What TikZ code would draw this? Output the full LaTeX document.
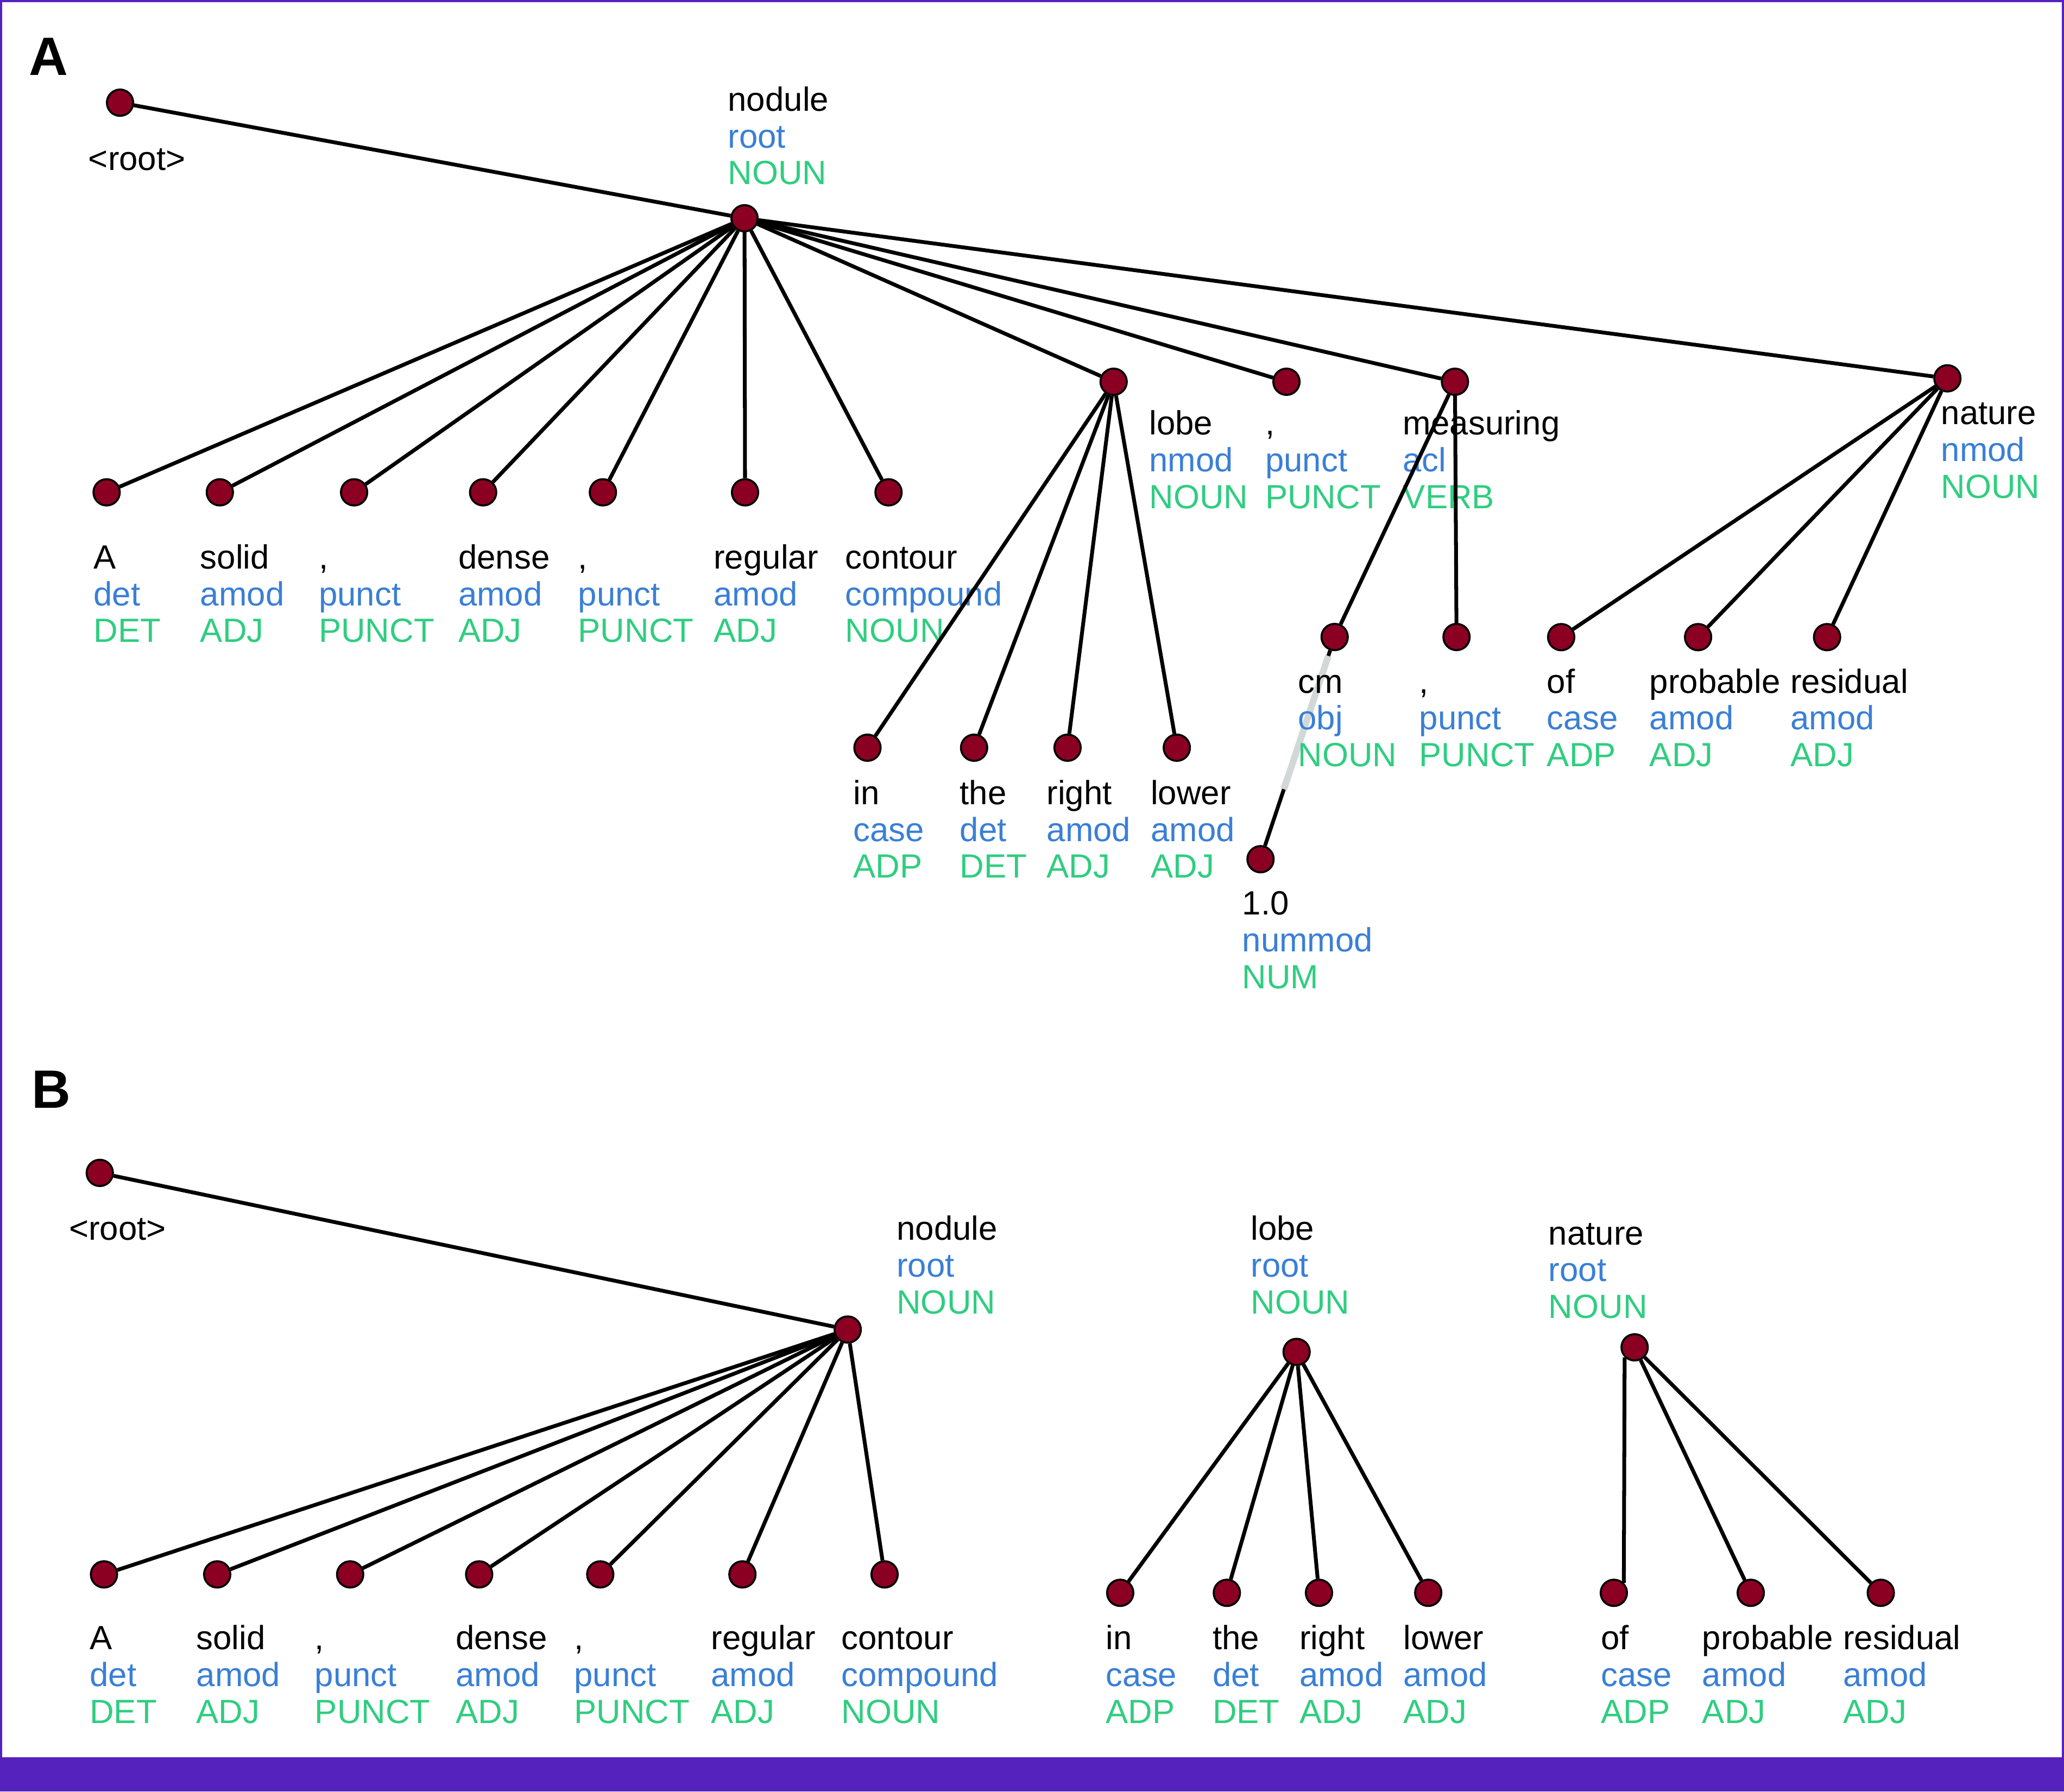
\documentclass[tikz,border=0pt]{standalone}
\usepackage{fontspec}
\setmainfont{Liberation Sans}
\usetikzlibrary{calc}
\definecolor{purp}{RGB}{85,34,190}
\definecolor{dotred}{RGB}{139,0,34}
\definecolor{relblue}{RGB}{58,127,214}
\definecolor{posgreen}{RGB}{48,205,128}
\definecolor{greyseg}{RGB}{210,215,215}
\tikzset{
  dot/.style={circle,minimum size=20pt,inner sep=0pt,fill=dotred,draw=black,line width=1.5pt},
  edge/.style={draw=black,line width=2.9pt},
  wtxt/.style={inner sep=0pt,text=black,font=\fontsize{25.5}{28}\selectfont},
  rtxt/.style={inner sep=0pt,text=relblue,font=\fontsize{25.5}{28}\selectfont},
  ptxt/.style={inner sep=0pt,text=posgreen,font=\fontsize{25.5}{28}\selectfont},
  panel/.style={inner sep=0pt,text=black,font=\fontsize{41}{44}\selectfont\bfseries}
}
\newcommand{\wlab}[6]{%
  \node[wtxt,anchor=base west] (#1w) at (#2,#3) {#4};
  \node[rtxt,anchor=base west] (#1r) at (#2,#3+28) {#5};
  \node[ptxt,anchor=base west] (#1p) at (#2,#3+56) {#6};}
\begin{document}
\begin{tikzpicture}[x=1pt,y=-1pt]
\useasboundingbox (0,0) rectangle (1568,1361);
\fill[purp] (0,0) rectangle (1568,1361);
\fill[white] (1.7,1.7) rectangle (1566.3,1335);
% panel letters
\node[panel,anchor=base west] (pA) at (22,57) {A};
\node[panel,anchor=base west] (pB) at (24,841.6) {B};
% ---------- Panel A dots ----------
\node[dot] (aRoot) at (91.2,78) {};
\node[dot] (aNod) at (565.6,165.8) {};
\node[dot] (aA) at (81,374) {};
\node[dot] (aSolid) at (167,374) {};
\node[dot] (aCa) at (269,374) {};
\node[dot] (aDense) at (367,374) {};
\node[dot] (aCb) at (458,374) {};
\node[dot] (aReg) at (566,374) {};
\node[dot] (aCont) at (675,374) {};
\node[dot] (aLobe) at (846,290) {};
\node[dot] (aCc) at (977.3,290) {};
\node[dot] (aMeas) at (1105.3,290) {};
\node[dot] (aNat) at (1479.4,287.4) {};
\node[dot] (aIn) at (659,568) {};
\node[dot] (aThe) at (740,568) {};
\node[dot] (aRight) at (811,568) {};
\node[dot] (aLower) at (894,568) {};
\node[dot] (aCm) at (1013.9,483.9) {};
\node[dot] (aCd) at (1106.5,483.9) {};
\node[dot] (aOf) at (1186,484) {};
\node[dot] (aProb) at (1290,484) {};
\node[dot] (aRes) at (1388,484) {};
\node[dot] (aNum) at (957.6,652.7) {};
% cm -- 1.0 edge, partly greyed, under the text
\draw[edge] (aCm) -- (aNum);
\coordinate (gTop) at ($(aCm)!0.085!(aNum)$);
\coordinate (gBot) at ($(aCm)!0.685!(aNum)$);
\draw[greyseg,line width=5pt] (gTop) -- (gBot);
% ---------- Panel A labels ----------
\node[wtxt,anchor=base west] (aRootw) at (67,129.3) {<root>};
\wlab{aNod}{552.8}{84.2}{nodule}{root}{NOUN}
\wlab{aA}{71}{432}{A}{det}{DET}
\wlab{aSolid}{152}{432}{solid}{amod}{ADJ}
\wlab{aCa}{242}{432}{,}{punct}{PUNCT}
\wlab{aDense}{348}{432}{dense}{amod}{ADJ}
\wlab{aCb}{439}{432}{,}{punct}{PUNCT}
\wlab{aReg}{542}{432}{regular}{amod}{ADJ}
\wlab{aCont}{642}{432}{contour}{compound}{NOUN}
\wlab{aLobe}{872.9}{330.3}{lobe}{nmod}{NOUN}
\wlab{aCc}{961}{330.3}{,}{punct}{PUNCT}
\wlab{aMeas}{1065.7}{330.3}{measuring}{acl}{VERB}
\wlab{aNat}{1474.4}{322.5}{nature}{nmod}{NOUN}
\wlab{aIn}{648}{611}{in}{case}{ADP}
\wlab{aThe}{729}{611}{the}{det}{DET}
\wlab{aRight}{795}{611}{right}{amod}{ADJ}
\wlab{aLower}{874}{611}{lower}{amod}{ADJ}
\wlab{aCm}{985.9}{526.4}{cm}{obj}{NOUN}
\wlab{aCd}{1078}{526.4}{,}{punct}{PUNCT}
\wlab{aOf}{1175}{526.4}{of}{case}{ADP}
\wlab{aProb}{1253}{526.4}{probable}{amod}{ADJ}
\wlab{aRes}{1360}{526.4}{residual}{amod}{ADJ}
\wlab{aNum}{943.5}{695}{1.0}{nummod}{NUM}
% ---------- Panel A edges ----------
\draw[edge] (aRoot) -- (aNod);
\foreach \c in {aA,aSolid,aCa,aDense,aCb,aReg,aCont,aLobe,aCc,aMeas,aNat}
  \draw[edge] (aNod) -- (\c);
\foreach \c in {aIn,aThe,aRight,aLower}
  \draw[edge] (aLobe) -- (\c);
\foreach \c in {aCm,aCd}
  \draw[edge] (aMeas) -- (\c);
\foreach \c in {aOf,aProb,aRes}
  \draw[edge] (aNat) -- (\c);
% ---------- Panel B labels ----------
\node[wtxt,anchor=base west] (bRootw) at (52.2,941.9) {<root>};
\wlab{bNod}{681}{942}{nodule}{root}{NOUN}
\wlab{bLobe}{950}{942}{lobe}{root}{NOUN}
\wlab{bNat}{1176.2}{945.5}{nature}{root}{NOUN}
\wlab{bA}{68}{1253}{A}{det}{DET}
\wlab{bSolid}{149}{1253}{solid}{amod}{ADJ}
\wlab{bCa}{239}{1253}{,}{punct}{PUNCT}
\wlab{bDense}{346}{1253}{dense}{amod}{ADJ}
\wlab{bCb}{436}{1253}{,}{punct}{PUNCT}
\wlab{bReg}{540}{1253}{regular}{amod}{ADJ}
\wlab{bCont}{639}{1253}{contour}{compound}{NOUN}
\wlab{bIn}{840}{1253}{in}{case}{ADP}
\wlab{bThe}{921}{1253}{the}{det}{DET}
\wlab{bRight}{987}{1253}{right}{amod}{ADJ}
\wlab{bLower}{1066}{1253}{lower}{amod}{ADJ}
\wlab{bOf}{1216}{1253}{of}{case}{ADP}
\wlab{bProb}{1293}{1253}{probable}{amod}{ADJ}
\wlab{bRes}{1400}{1253}{residual}{amod}{ADJ}
% ---------- Panel B dots ----------
\node[dot] (bRoot) at (75.8,891) {};
\node[dot] (bNod) at (644,1010) {};
\node[dot] (bLobe) at (985,1027) {};
\node[dot] (bNat) at (1241.8,1023.5) {};
\node[dot] (bA) at (79,1196) {};
\node[dot] (bSolid) at (165,1196) {};
\node[dot] (bCa) at (266,1196) {};
\node[dot] (bDense) at (364,1196) {};
\node[dot] (bCb) at (456,1196) {};
\node[dot] (bReg) at (564,1196) {};
\node[dot] (bCont) at (672,1196) {};
\node[dot] (bIn) at (851,1210) {};
\node[dot] (bThe) at (932,1210) {};
\node[dot] (bRight) at (1002,1210) {};
\node[dot] (bLower) at (1085,1210) {};
\node[dot] (bOf) at (1226,1210) {};
\node[dot] (bProb) at (1330,1210) {};
\node[dot] (bRes) at (1428.8,1210) {};
% ---------- Panel B edges ----------
\draw[edge] (bRoot) -- (bNod);
\foreach \c in {bA,bSolid,bCa,bDense,bCb,bReg,bCont}
  \draw[edge] (bNod) -- (\c);
\foreach \c in {bIn,bThe,bRight,bLower}
  \draw[edge] (bLobe) -- (\c);
\draw[edge] (bNat.south west) -- (bOf.north east);
\foreach \c in {bProb,bRes}
  \draw[edge] (bNat) -- (\c);
\end{tikzpicture}
\end{document}
